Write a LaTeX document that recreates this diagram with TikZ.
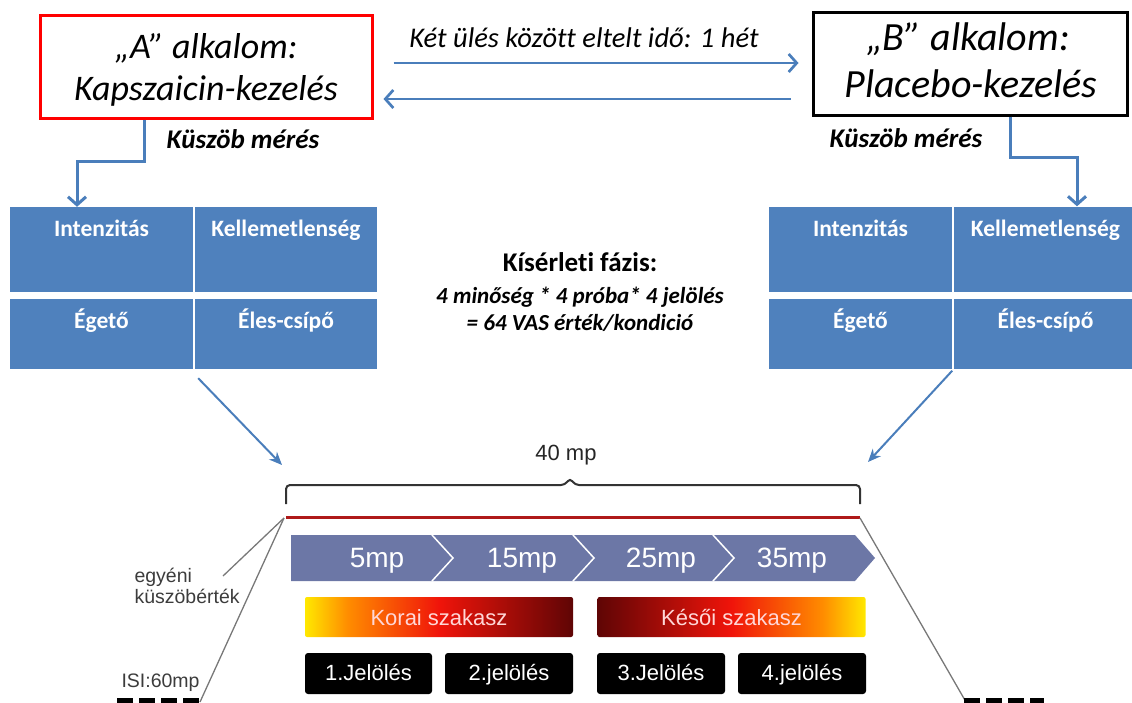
\documentclass[tikz,border=0pt]{standalone}
\usepackage{fontspec}
\setmainfont{Carlito}[Ligatures=NoCommon]
\newfontfamily\arialf{Liberation Sans}
\usetikzlibrary{arrows.meta,calc}
\definecolor{cellblue}{RGB}{79,129,189}
\definecolor{arrblue}{RGB}{74,126,187}
\definecolor{chev}{RGB}{108,119,166}
\definecolor{dred}{RGB}{175,25,25}
\definecolor{txtgray}{RGB}{60,60,60}
\definecolor{linegray}{RGB}{120,120,120}
\definecolor{pinkw}{RGB}{255,215,215}
\definecolor{gy}{RGB}{255,232,0}
\definecolor{go}{RGB}{255,140,0}
\definecolor{gr}{RGB}{240,20,10}
\definecolor{gd}{RGB}{95,5,5}
\pgfdeclarehorizontalshading{koraish}{100bp}{color(0bp)=(gy); color(25bp)=(gy); color(33bp)=(go); color(50bp)=(gr); color(75bp)=(gd); color(100bp)=(gd)}
\pgfdeclarehorizontalshading{kesoish}{100bp}{color(0bp)=(gd); color(25bp)=(gd); color(50bp)=(gr); color(67bp)=(go); color(75bp)=(gy); color(100bp)=(gy)}
\begin{document}
\begin{tikzpicture}[x=1pt,y=-1pt,
  sess/.style={draw, line width=3pt, minimum width=332pt, minimum height=103pt, inner sep=0pt},
  sessa/.style={anchor=base, font=\itshape\fontsize{36}{42}\selectfont},
  sessb/.style={anchor=base, font=\itshape\fontsize{40}{46}\selectfont},
  arrb/.style={draw=arrblue, line width=2.7pt, -{Straight Barb[length=8pt,width=18pt]}},
  arrd/.style={draw=arrblue, line width=2pt, -{Stealth[length=13pt,width=11pt]}},
  cell/.style={fill=cellblue, inner sep=0pt},
  cellt/.style={anchor=base, yshift=-30pt, text=white, font=\bfseries\fontsize{23.5}{26}\selectfont},
  kusz/.style={anchor=base, font=\bfseries\itshape\fontsize{27}{30}\selectfont},
  ari/.style={font=\arialf\fontsize{#1}{#1}\selectfont},
  chevt/.style={anchor=base, text=white, ari=28},
  phase/.style={minimum width=268pt, minimum height=40pt, rounded corners=2pt, text=pinkw, ari=22, inner sep=0pt, text height=16pt, text depth=0pt},
  markbox/.style={fill=black, rounded corners=3pt, minimum width=128pt, minimum height=41pt, text=white, ari=22, inner sep=0pt, text height=16pt, text depth=2pt},
  glab/.style={anchor=base west, text=txtgray, ari=19.5},
  gline/.style={draw=linegray, line width=1.3pt},
]
\useasboundingbox (0,0) rectangle (1132,702);
\clip (0,0) rectangle (1132,702);

% session boxes
\node[sess, draw=red] (A) at (206,66.5) {};
\node[sessa] (A1) at (206,58) {„A” alkalom:};
\node[sessa] (A2) at (206,100) {Kapszaicin-kezelés};
\node[sess, draw=black, minimum width=314pt] (B) at (970,63.5) {};
\node[sessb] (B1) at (968,50) {„B” alkalom:};
\node[sessb] (B2) at (971,97) {Placebo-kezelés};

% between sessions
\node[anchor=base, font=\itshape\fontsize{28.5}{32}\selectfont] (gap) at (584,47) {Két ülés között eltelt idő: 1 hét};
\draw[arrb] ($(A.east)+(20,-3.5)$) -- ($(B.west)+(-13,-0.5)$);
\draw[arrb] ($(B.west)+(-21,35.5)$) -- ($(A.east)+(10,32.5)$);

% threshold labels
\node[kusz] (kA) at (243,148) {Küszöb mérés};
\node[kusz] (kB) at (906,147) {Küszöb mérés};

% left grid
\node[cell, minimum width=183pt, minimum height=85pt, label={[cellt]north:Intenzitás}] (LI) at (101.5,249.5) {};
\node[cell, minimum width=182pt, minimum height=85pt, label={[cellt]north:Kellemetlenség}] (LK) at (286,249.5) {};
\node[cell, minimum width=183pt, minimum height=70pt, label={[cellt]north:Égető}] (LE) at (101.5,334) {};
\node[cell, minimum width=182pt, minimum height=70pt, label={[cellt]north:Éles-csípő}] (LC) at (286,334) {};

% right grid
\node[cell, minimum width=183pt, minimum height=85pt, label={[cellt]north:Intenzitás}] (RI) at (860.5,249) {};
\node[cell, minimum width=183pt, minimum height=85pt, label={[cellt]north:Kellemetlenség}] (RK) at (1045.5,249) {};
\node[cell, minimum width=183pt, minimum height=70pt, label={[cellt]north:Égető}] (RE) at (860.5,333.5) {};
\node[cell, minimum width=183pt, minimum height=70pt, label={[cellt]north:Éles-csípő}] (RC) at (1045.5,333.5) {};

% elbow arrows
\coordinate (la) at (77,161);
\coordinate (rb) at (1077,157);
\draw[arrb, line width=3pt] ($(A.south)+(-62,0)$) |- (la) -- (la |- LI.north);
\draw[arrb, line width=3pt] ($(B.south)+(40,0)$) |- (rb) -- (rb |- RK.north);

% experimental phase text
\node[anchor=base, font=\bfseries\fontsize{27}{30}\selectfont] (ph1) at (580,271) {Kísérleti fázis:};
\node[anchor=base, font=\bfseries\itshape\fontsize{23}{26}\selectfont] (ph2) at (580,303) {4 minőség * 4 próba* 4 jelölés};
\node[anchor=base, font=\bfseries\itshape\fontsize{23}{26}\selectfont] (ph3) at (580,330) {= 64 VAS érték/kondició};

% diagonal arrows
\coordinate (lt) at (282,465);
\coordinate (rt) at (868,462);
\draw[arrd] ($(LE.south east)+(5,9)$) -- (lt);
\draw[arrd] ($(RE.south east)+(0,2)$) -- (rt);

% brace and 40 mp
\node[anchor=base, text=black!85, ari=22] (forty) at (566,460) {40 mp};
\draw[draw=black!80, line width=2pt, rounded corners=4pt] (286,504) -- (286,485) -- (565,485) -- (570,478) -- (575,485) -- (860,485) -- (860,504);

% red threshold line
\coordinate (tp) at (284,518);
\coordinate (tq) at (860,518);
\draw[dred, line width=3pt] (286,517) -- (860,517);

% gray lines and labels
\node[glab] (eg1) at (131,582) {egyéni};
\node[glab] (eg2) at (131,603) {küszöbérték};
\node[glab] (isi) at (118,687) {ISI:60mp};
\coordinate (ep) at (223,576);
\coordinate (lb) at (200,702);
\coordinate (rbb) at (966,702);
\draw[gline] (tp) -- (ep);
\draw[gline] (tp) -- (lb);
\draw[gline] (tq) -- (rbb);

% chevron bar
\fill[chev] (291,535) -- (855,535) -- (875,558) -- (855,581) -- (291,581) -- cycle;
\foreach \x in {432,573,713}{
  \draw[white, line width=1.5pt] (\x,535) -- (\x+21,558) -- (\x,581);
}
\node[chevt] (c1) at (377,567) {5mp};
\node[chevt] (c2) at (522,567) {15mp};
\node[chevt] (c3) at (661,567) {25mp};
\node[chevt] (c4) at (792,567) {35mp};

% phases
\node[phase, shading=koraish] (korai) at (439,617) {Korai szakasz};
\node[phase, shading=kesoish] (keso) at (731.5,617) {Késői szakasz};

% markings
\node[markbox, minimum width=127pt] (j1) at (368.5,673.5) {1.Jelölés};
\node[markbox] (j2) at (509,673.5) {2.jelölés};
\node[markbox] (j3) at (661,673.5) {3.Jelölés};
\node[markbox] (j4) at (802,673.5) {4.jelölés};

% bottom dashes
\draw[line width=6pt, dash pattern=on 16pt off 6pt] (117,701) -- (199,701);
\draw[line width=6pt, dash pattern=on 16pt off 6pt] (964,701) -- (1044,701);
\end{tikzpicture}
\end{document}
